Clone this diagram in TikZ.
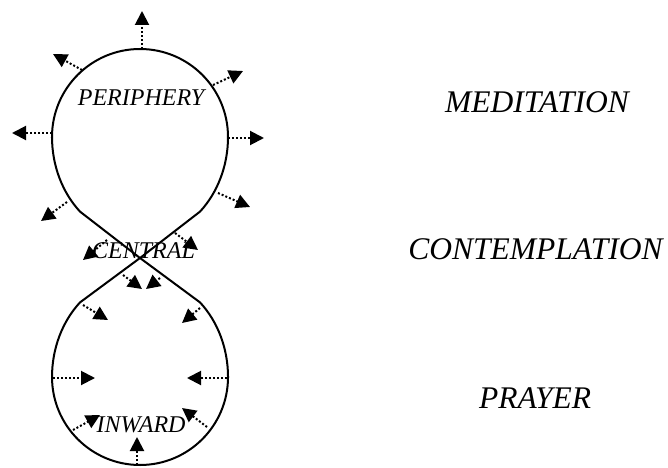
\documentclass[tikz,border=0pt]{standalone}
\usepackage{fontspec}
\setmainfont{Liberation Serif}
\usetikzlibrary{arrows.meta}
\tikzset{
  loopline/.style={line width=2pt, line join=miter},
  flow/.style={line width=2pt, dash pattern=on 2pt off 2pt, -{Triangle[length=14pt,width=14pt]}},
  bigtxt/.style={anchor=base, inner sep=0pt, font=\fontsize{31.5}{36}\selectfont\itshape},
  smalltxt/.style={anchor=base, inner sep=0pt, font=\fontsize{24}{28}\selectfont\itshape}
}
\begin{document}
\begin{tikzpicture}[x=1pt,y=1pt]
\useasboundingbox (0,0) rectangle (668,467);
% figure-eight outline
\coordinate (X) at (140,209);
\draw[loopline] (52,330) arc[start angle=180, end angle=0, radius=88]
  arc[start angle=0, end angle=-47, x radius=88, y radius=102]
  -- (X) -- (80,164.6)
  arc[start angle=133, end angle=180, x radius=88, y radius=102]
  arc[start angle=180, end angle=360, radius=88]
  arc[start angle=0, end angle=47, x radius=88, y radius=102]
  -- (X) -- (80,255.4)
  arc[start angle=227, end angle=180, x radius=88, y radius=102] -- cycle;
% arrows
\foreach \i/\sx/\sy/\ex/\ey in {
  1/142/418/142/456, 2/82/397/53/413, 3/213/382/243/396, 4/52/334/12/334,
  5/228/329/264/329, 6/218/274/250/260, 7/67/265/41/246,
  8/107/227/83/207, 9/175/234/198/217, 10/123/192/142/178, 11/160/189/146/178,
  12/83/162/108/147, 13/200/159/182/144, 14/53/89/95/89, 15/227/89/187/89,
  16/73/37/100/52, 17/207/40/182/59, 18/137/2/137/30} {
  \coordinate (s\i) at (\sx,\sy);
  \coordinate (e\i) at (\ex,\ey);
  \draw[flow] (s\i) -- (e\i);
}
% labels
\node[smalltxt] (peri) at (141,362) {PERIPHERY};
\node[smalltxt] (cent) at (143.5,209) {CENTRAL};
\node[smalltxt] (inw) at (141,35) {INWARD};
\node[bigtxt] (med) at (537,355) {MEDITATION};
\node[bigtxt] (cont) at (535.5,208) {CONTEMPLATION};
\node[bigtxt] (pray) at (535,59) {PRAYER};
\end{tikzpicture}
\end{document}
